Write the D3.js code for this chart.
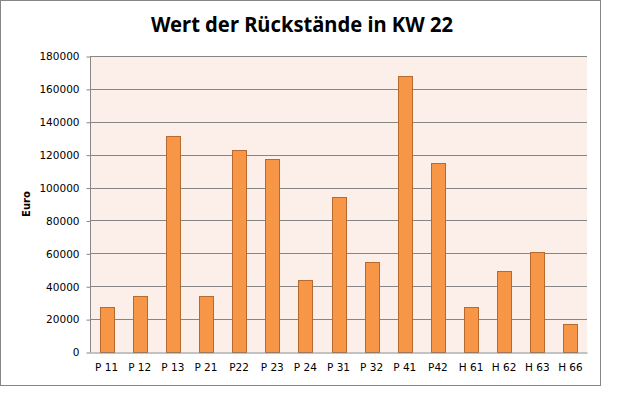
<!DOCTYPE html>
<html>
<head>
<meta charset="utf-8">
<script src="https://cdn.jsdelivr.net/npm/d3@7"></script>
<style>
  body { margin: 0; background: #fff; }
  text { font-family: "DejaVu Sans", Verdana, sans-serif; }
</style>
</head>
<body>
<div id="chart"></div>
<script>
// Data
let categories = ['P 11', 'P 12', 'P 13', 'P 21', 'P22', 'P 23', 'P 24', 'P 31', 'P 32', 'P 41', 'P42', 'H 61', 'H 62', 'H 63', 'H 66'];
let values = [27300, 34200, 131300, 34200, 122800, 117300, 43800, 94200, 54700, 168000, 114900, 27400, 49200, 60800, 17000];
let yTicks = [0, 20000, 40000, 60000, 80000, 100000, 120000, 140000, 160000, 180000];
let title = 'Wert der Rückstände in KW 22';
let yLabel = 'Euro';

// Setting the SVG perimeter
let svgWidth = 626;
let svgHeight = 399;

// plot area
let margin = { top: 56, right: 39, bottom: 47, left: 90 };
let width = 587 - margin.left;
let height = 352 - margin.top;

let svg = d3.select('#chart')
    .append('svg')
    .attr('width', svgWidth)
    .attr('height', svgHeight);

// outer frame
svg.append('rect')
    .attr('x', 0.5)
    .attr('y', 0.5)
    .attr('width', 600)
    .attr('height', 385)
    .attr('fill', '#fff')
    .attr('stroke', '#868686');

// title
svg.append('text')
    .attr('x', 302)
    .attr('y', 32)
    .attr('text-anchor', 'middle')
    .attr('textLength', 302)
    .attr('lengthAdjust', 'spacingAndGlyphs')
    .style('font-family', '"Noto Sans", "Open Sans", sans-serif')
    .style('font-weight', 'bold')
    .style('font-size', '22px')
    .attr('fill', '#000')
    .text(title);

let chartGroup = svg.append('g')
    .attr('transform', `translate(${margin.left}, ${margin.top})`);

// plot background
chartGroup.append('rect')
    .attr('width', width)
    .attr('height', height)
    .attr('fill', '#FCEEE8');

let xScale = d3.scaleBand()
    .domain(categories)
    .range([0, width])
    .padding(0);

let yScale = d3.scaleLinear()
    .domain([0, 180000])
    .range([height, 0]);

// gridlines
chartGroup.append('g')
    .selectAll('line')
    .data(yTicks.filter(d => d > 0))
    .enter()
    .append('line')
    .attr('x1', 0)
    .attr('x2', width)
    .attr('y1', d => Math.round(yScale(d)) + 0.5)
    .attr('y2', d => Math.round(yScale(d)) + 0.5)
    .attr('stroke', '#868686')
    .attr('stroke-width', 1);

// y axis
let leftAxis = d3.axisLeft(yScale)
    .tickValues(yTicks)
    .tickSize(4)
    .tickPadding(7)
    .tickFormat(d3.format('d'));

let yAxis = chartGroup.append('g')
    .attr('transform', 'translate(0.5, 0.5)')
    .call(leftAxis);
yAxis.select('.domain').attr('stroke', '#868686').attr('d', `M0,0V${height}`);
yAxis.selectAll('.tick line').attr('stroke', '#868686');
yAxis.selectAll('.tick text')
    .style('font-size', '10.5px')
    .style('font-family', '"DejaVu Sans", Verdana, sans-serif')
    .attr('fill', '#000');

// bars (snapped to pixels so the outline stays crisp)
let barW = Math.round(xScale.bandwidth() / 2.3);
chartGroup.selectAll('.bar')
    .data(values)
    .enter()
    .append('rect')
    .attr('class', 'bar')
    .attr('x', (d, i) => Math.round(xScale(categories[i]) + (xScale.bandwidth() - barW) / 2) + 0.5)
    .attr('y', d => Math.round(yScale(d)) + 0.5)
    .attr('width', barW)
    .attr('height', d => height - Math.round(yScale(d)))
    .attr('fill', '#F79646')
    .attr('stroke', '#B8692E')
    .attr('stroke-width', 1);

// x axis
let bottomAxis = d3.axisBottom(xScale)
    .tickSize(0)
    .tickPadding(11);

let xAxis = chartGroup.append('g')
    .attr('transform', `translate(0, ${height + 0.5})`)
    .call(bottomAxis);
xAxis.select('.domain').attr('stroke', '#868686');
xAxis.selectAll('.tick text')
    .style('font-size', '10.5px')
    .style('font-family', '"DejaVu Sans", Verdana, sans-serif')
    .attr('fill', '#000');

// y axis label
svg.append('text')
    .attr('transform', 'rotate(-90)')
    .attr('x', -204)
    .attr('y', 30)
    .attr('text-anchor', 'middle')
    .style('font-size', '10px')
    .style('font-weight', 'bold')
    .attr('fill', '#000')
    .text(yLabel);
</script>
</body>
</html>
